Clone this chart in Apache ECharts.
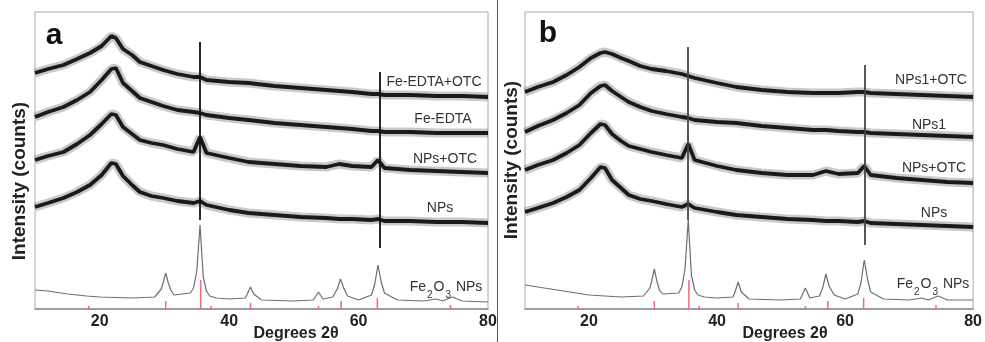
<!DOCTYPE html>
<html>
<head>
<meta charset="utf-8">
<script src="https://cdn.jsdelivr.net/npm/echarts@6/dist/echarts.min.js"></script>
<style>
  html, body { margin: 0; padding: 0; background: #fff; }
  #chart { width: 985px; height: 342px; }
</style>
</head>
<body>
<div id="chart"></div>
<script>
// 2θ positions where the amorphous traces were read
const scanX = [10, 12, 14.4, 16.5, 18.5, 20.3, 21.8, 22.5, 23.6, 25, 26.2, 28, 29.8, 32, 34.5, 35.5, 36.5, 40, 43, 47, 51, 55, 57, 59, 62, 63, 64, 68, 72, 76, 80]

// panel a (offset intensities, arbitrary units)
const aFeEdtaOtc = [236, 240, 244, 250, 256, 263, 273, 271, 260, 254, 247, 243, 239, 235, 232, 232, 229, 227, 226, 223, 221, 219, 218, 217, 215, 215, 214, 214, 213, 213, 212]
const aFeEdta = [192, 197, 202, 209, 217, 229, 240, 241, 226, 218, 211, 207, 203, 199, 197, 196, 194, 191, 189, 186, 184, 182, 181, 180, 178, 178, 177, 177, 176, 176, 176]
const aNpsOtc = [149, 153, 157, 165, 174, 185, 195, 194, 182, 175, 169, 166, 164, 160, 157, 172, 156, 151, 147, 145, 143, 142, 145, 143, 142, 149, 141, 139, 138, 137, 136]
const aNps = [102, 106, 111, 117, 124, 134, 146, 145, 133, 124, 117, 113, 111, 108, 106, 108, 104, 99, 96, 94, 92, 91, 90, 90, 89, 90, 88, 88, 87, 87, 86]

// panel b
const bNps1Otc = [217, 222, 227, 234, 242, 251, 256, 257, 255, 251, 248, 243, 240, 238, 235, 233, 231, 226, 222, 219, 217, 216, 216, 216, 217, 217, 216, 215, 214, 213, 212]
const bNps1 = [177, 183, 189, 196, 204, 216, 223, 224, 218, 212, 207, 202, 198, 195, 192, 191, 189, 187, 186, 183, 181, 179, 179, 178, 177, 177, 176, 175, 174, 173, 172]
const bNpsOtc = [139, 144, 149, 156, 164, 176, 185, 184, 175, 168, 163, 160, 157, 154, 151, 165, 149, 143, 139, 136, 134, 134, 138, 135, 136, 143, 134, 131, 129, 127, 126]
const bNps = [97, 101, 106, 112, 119, 131, 142, 141, 129, 121, 114, 110, 108, 105, 102, 105, 101, 97, 94, 92, 90, 89, 88, 88, 87, 88, 86, 85, 84, 83, 82]

// Fe2O3 NPs reference pattern
const feXA = [10, 12, 15, 18, 20, 25, 28.5, 29.5, 29.8, 30.2, 30.6, 31, 31.5, 34, 34.5, 35.0, 35.5, 36.0, 36.5, 37, 38, 40, 42.5, 42.8, 43.3, 43.8, 45, 50, 53, 53.8, 54.5, 56, 56.7, 57.2, 57.7, 58.3, 60, 62, 62.5, 63, 63.5, 64, 66, 70, 72, 73, 74.5, 76, 80]
const feYA = [19, 18, 15, 13, 12, 11, 12, 20, 26, 36, 26, 19, 14, 16, 21, 38, 84, 32, 18, 13, 11, 10, 11, 15, 22, 15, 9, 8, 9, 17, 10, 12, 20, 30, 21, 13, 9, 14, 25, 44, 27, 16, 9, 8, 10, 8, 12, 8, 7]
const feXB = [10, 12, 15, 18, 20, 25, 28.5, 29.5, 29.8, 30.2, 30.6, 31, 31.5, 34, 34.5, 35.0, 35.5, 36.0, 36.5, 37, 38, 40, 42.5, 42.8, 43.3, 43.8, 45, 50, 53, 53.8, 54.5, 56, 56.5, 57.0, 57.5, 58.3, 60, 62, 62.5, 63, 63.5, 64, 66, 70, 72, 73, 74.5, 76, 80]
const feYB = [24, 22, 19, 16, 14, 12, 13, 21, 28, 40, 28, 19, 15, 16, 22, 40, 89, 34, 19, 14, 12, 11, 12, 17, 27, 17, 10, 9, 10, 21, 11, 13, 21, 35, 23, 14, 10, 15, 27, 49, 30, 17, 10, 9, 11, 9, 13, 9, 9]

// standard card ticks (red)
const refX = [18.3, 30.2, 35.6, 37.2, 43.3, 53.8, 57.3, 62.9, 74.2]
const refH = [3, 8, 29, 3, 6, 3, 8, 11, 4]

// guide lines [2θ, from, to]
const guideA = [[35.5, 89, 267], [63.2, 61, 237]]
const guideB = [[35.5, 89, 262], [63.0, 64, 244]]

const labelsA = ['Fe-EDTA+OTC', 'Fe-EDTA', 'NPs+OTC', 'NPs']
const labelsB = ['NPs1+OTC', 'NPs1', 'NPs+OTC', 'NPs']

const zip = (xs, ys) => xs.map((x, i) => [x, ys[i]])
const FONT = '"Liberation Sans", Arial, sans-serif'

// noisy scans: grey halo for the noise + dark core
const traceSeries = (ys, idx) => [
  {
    type: 'line',
    xAxisIndex: idx,
    yAxisIndex: idx,
    data: zip(scanX, ys),
    showSymbol: false,
    silent: true,
    lineStyle: { color: '#777', width: 9, opacity: 0.4 },
  },
  {
    type: 'line',
    xAxisIndex: idx,
    yAxisIndex: idx,
    data: zip(scanX, ys),
    showSymbol: false,
    silent: true,
    lineStyle: { color: '#111', width: 3.8, opacity: 0.95 },
  },
]

const panelSeries = (idx, traces, feX, feY, guides, guideColor) => [
  {
    type: 'line',
    xAxisIndex: idx,
    yAxisIndex: idx,
    data: zip(feX, feY),
    showSymbol: false,
    silent: true,
    lineStyle: { color: '#6e6e6e', width: 1.2 },
  },
  {
    type: 'bar',
    xAxisIndex: idx,
    yAxisIndex: idx,
    data: zip(refX, refH),
    barWidth: 1.5,
    silent: true,
    itemStyle: { color: '#ee6b78' },
  },
  ...traces.flatMap((t) => traceSeries(t, idx)),
  {
    type: 'line',
    xAxisIndex: idx,
    yAxisIndex: idx,
    data: [],
    markLine: {
      silent: true,
      symbol: 'none',
      label: { show: false },
      lineStyle: { color: guideColor, width: 1.8, type: 'solid' },
      data: guides.map((g) => [{ coord: [g[0], g[1]] }, { coord: [g[0], g[2]] }]),
    },
  },
]

const xAxisCfg = (idx) => ({
  type: 'value',
  gridIndex: idx,
  min: 10,
  max: 80,
  interval: 10,
  axisLine: { lineStyle: { color: '#8a8a8a', width: 1.5 } },
  axisTick: { show: false },
  splitLine: { show: false },
  axisLabel: {
    margin: 5,
    color: '#222',
    fontSize: 16,
    fontWeight: 'bold',
    fontFamily: FONT,
    formatter: (v) => (v % 20 === 0 ? String(v) : ''),
  },
})

const yAxisCfg = (idx) => ({
  type: 'value',
  gridIndex: idx,
  min: 0,
  max: 297,
  show: false,
})

const text = (str, x, y, size, weight, extra) => ({
  type: 'text',
  x: x,
  y: y,
  silent: true,
  style: Object.assign({
    text: str,
    fill: '#222',
    font: `${weight} ${size}px ${FONT}`,
    textAlign: 'center',
    textVerticalAlign: 'middle',
  }, extra || {}),
})

const feLabel = (x, y) => ({
  type: 'text',
  x: x,
  y: y,
  silent: true,
  style: {
    text: 'Fe{s|2}O{s|3} NPs',
    fill: '#333',
    font: `normal 14px ${FONT}`,
    textAlign: 'center',
    textVerticalAlign: 'middle',
    rich: {
      s: { fontSize: 10, fontFamily: FONT, fill: '#333', padding: [16, 1, 0, 1] },
    },
  },
})

const option = {
  animation: false,
  grid: [
    { left: 35, width: 453, top: 12, bottom: 33, show: true, borderColor: '#a8a8a8', borderWidth: 1 },
    { left: 525, width: 453, top: 12, bottom: 33, show: true, borderColor: '#a8a8a8', borderWidth: 1 },
  ],
  xAxis: [xAxisCfg(0), xAxisCfg(1)],
  yAxis: [yAxisCfg(0), yAxisCfg(1)],
  series: [
    ...panelSeries(0, [aFeEdtaOtc, aFeEdta, aNpsOtc, aNps], feXA, feYA, guideA, '#111'),
    ...panelSeries(1, [bNps1Otc, bNps1, bNpsOtc, bNps], feXB, feYB, guideB, '#444'),
  ],
  graphic: [
    { type: 'line', silent: true, shape: { x1: 497.5, y1: 0, x2: 497.5, y2: 342 }, style: { stroke: '#555', lineWidth: 1 } },
    text('a', 54, 36, 30, 'bold', { fill: '#111' }),
    text('b', 548, 34, 30, 'bold', { fill: '#111' }),
    Object.assign(text('Intensity (counts)', 20, 181, 19, 'bold'), { rotation: Math.PI / 2 }),
    Object.assign(text('Intensity (counts)', 512, 160, 19, 'bold'), { rotation: Math.PI / 2 }),
    text('Degrees 2θ', 296, 334, 16, 'bold'),
    text('Degrees 2θ', 785, 334, 16, 'bold'),
    ...labelsA.map((s, i) => text(s, [434, 443, 445, 440][i], [82, 119, 159, 208][i], 14, 'normal', { fill: '#333' })),
    ...labelsB.map((s, i) => text(s, [931, 929, 934, 934][i], [80, 125, 168, 213][i], 14, 'normal', { fill: '#333' })),
    feLabel(446, 287),
    feLabel(933, 284),
  ],
}

const chart = echarts.init(document.getElementById('chart'))
chart.setOption(option)
</script>
</body>
</html>
